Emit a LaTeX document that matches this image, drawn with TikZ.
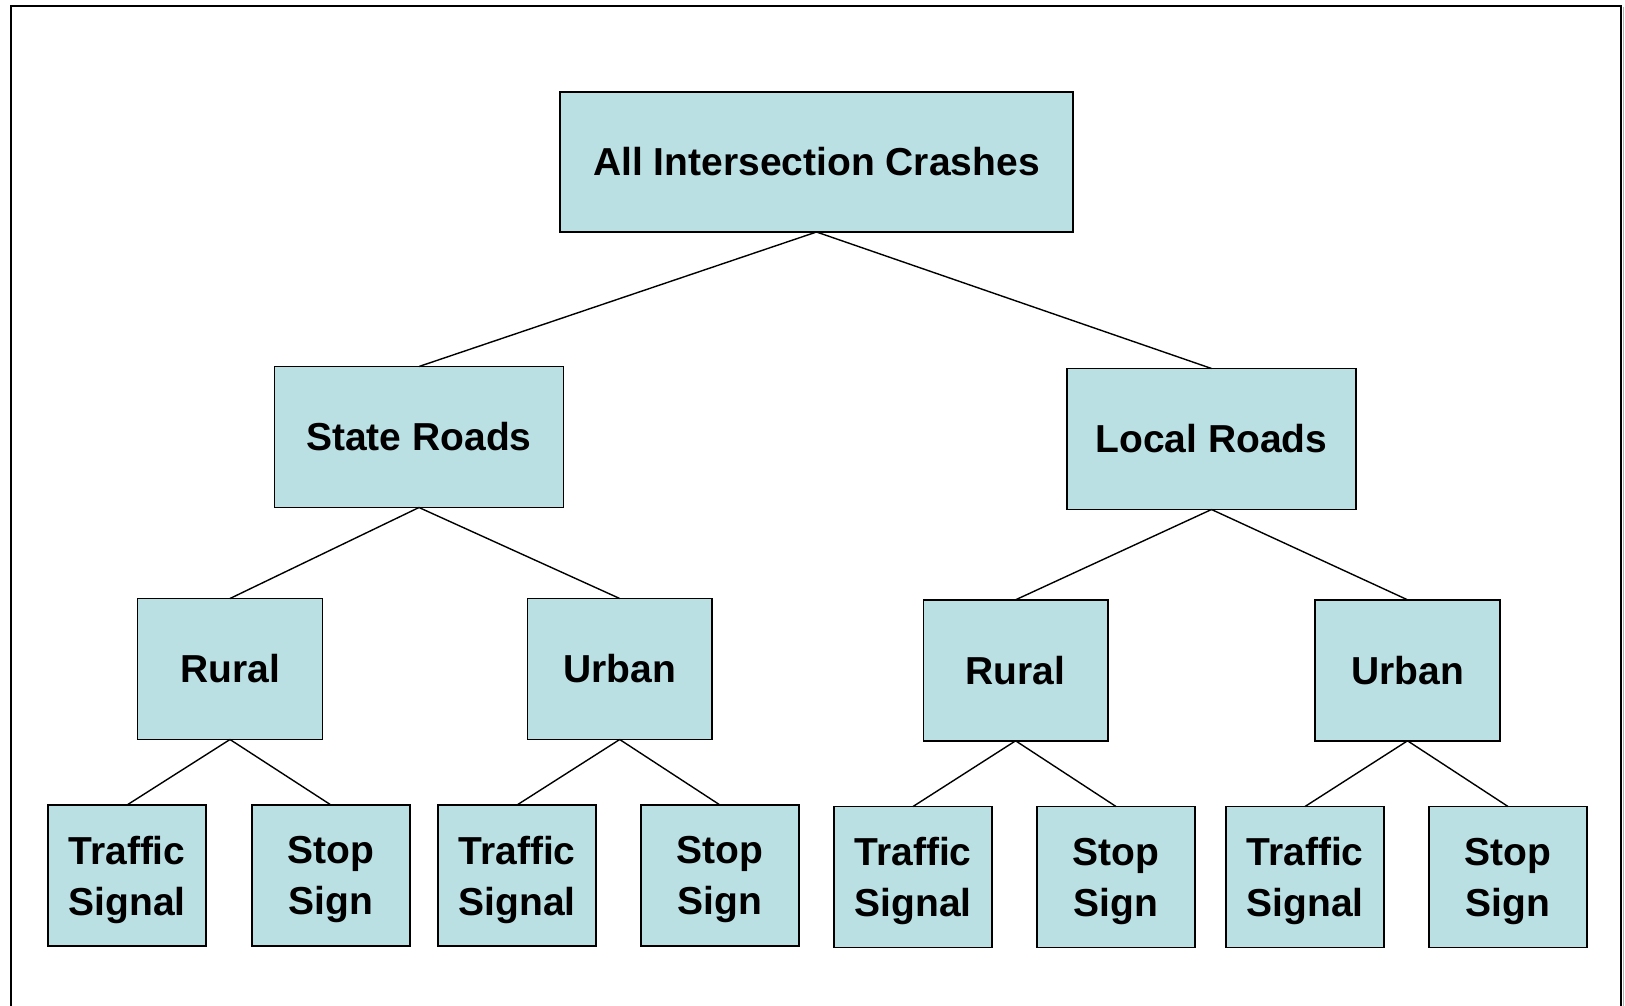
\documentclass[tikz,border=0pt]{standalone}
\usepackage{fontspec}
\setmainfont{Liberation Sans}
\definecolor{boxfill}{RGB}{186,224,228}
\begin{document}
\begin{tikzpicture}[x=0.5pt,y=-0.5pt,
  box/.style={draw=black, fill=boxfill, line width=0.75pt, inner sep=0pt, outer sep=0pt,
    align=center, minimum height=70.5pt, font=\fontsize{19.5}{25.5}\selectfont\bfseries},
  midbox/.style={box, minimum width=92.3pt},
  leaf/.style={box, minimum width=79pt, text depth=0pt},
  link/.style={draw=black, line width=0.7pt}]
\useasboundingbox (0,0) rectangle (1625,1005);
\fill[white] (0,0) rectangle (1625,1005);
% outer frame, open along the bottom edge
\draw[line width=0.6pt, gray!60] (1623.5,7) -- (1623.5,1010);
\draw[line width=0.8pt] (11,1010) -- (11,6) -- (1621,6) -- (1621,1010);

% top level
\node[box, minimum width=256.3pt, minimum height=70pt] (root) at (816.5,162) {All Intersection Crashes};

% road type
\node[box, minimum width=144.5pt] (state) at (419,437) {State Roads};
\node[box, minimum width=144.5pt] (local) at (1211.5,439) {Local Roads};

% area type
\node[midbox] (sr) at (230,669) {Rural};
\node[midbox] (su) at (619.7,669) {Urban};
\node[midbox] (lr) at (1015.6,670.3) {Rural};
\node[midbox] (lu) at (1407.5,670.3) {Urban};

% traffic control
\node[leaf] (srt) at (127,875.5) {Traffic\\Signal};
\node[leaf] (srs) at (331,875.5) {Stop\\Sign};
\node[leaf] (sut) at (517,875.5) {Traffic\\Signal};
\node[leaf] (sus) at (720,875.5) {Stop\\Sign};
\node[leaf] (lrt) at (913,877) {Traffic\\Signal};
\node[leaf] (lrs) at (1116,877) {Stop\\Sign};
\node[leaf] (lut) at (1305,877) {Traffic\\Signal};
\node[leaf] (lus) at (1508,877) {Stop\\Sign};

% tree connectors
\foreach \p/\c in {root/state, root/local, state/sr, state/su, local/lr, local/lu,
                   sr/srt, sr/srs, su/sut, su/sus, lr/lrt, lr/lrs, lu/lut, lu/lus}
  \draw[link] (\p.south) -- (\c.north);
\end{tikzpicture}
\end{document}
